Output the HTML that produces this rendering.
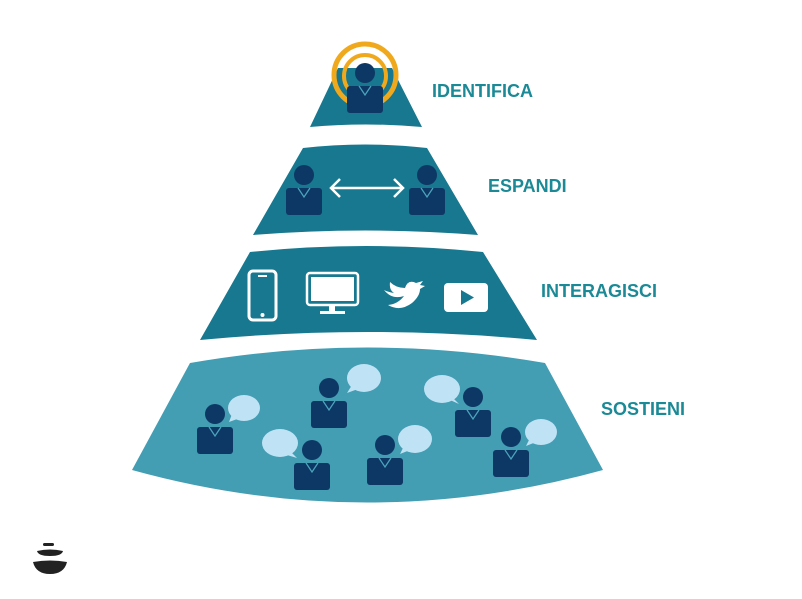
<!DOCTYPE html>
<html><head><meta charset="utf-8"><style>
body{margin:0;background:#fff;}
svg{display:block}
text{font-family:"Liberation Sans",sans-serif;font-weight:bold;fill:#1b8a96;font-size:18px}
</style></head><body>
<svg width="802" height="599" viewBox="0 0 802 599">
<defs>
<g id="p">
<circle cx="0" cy="-13" r="10" fill="#0d3764"/>
<rect x="-18" y="0" width="36" height="27" rx="3" fill="#0d3764"/>
<path d="M-6 0 L0 9 L6 0" fill="none" stroke="#4aa3bd" stroke-width="1.3"/>
</g>
</defs>
<path d="M338 68 L392 68 L422 127 Q366 122 310 127 Z" fill="#17788f"/>
<path d="M303 148 Q365 141 427 148 L478 235 Q365 226 253 235 Z" fill="#17788f"/>
<path d="M250 252 Q366 240 483 252 L537 340 Q368 324 200 340 Z" fill="#17788f"/>
<path d="M190 363 Q367 332 545 363 L603 470 Q367 535 132 470 Z" fill="#439db3"/>
<circle cx="365" cy="75" r="31" fill="none" stroke="#f0a91c" stroke-width="5"/>
<circle cx="365" cy="76" r="21" fill="none" stroke="#f0a91c" stroke-width="4"/>
<use href="#p" x="365" y="86"/>
<use href="#p" x="304" y="188"/>
<use href="#p" x="427" y="188"/>
<path d="M331 188 H403 M340 179 L331 188 L340 197 M394 179 L403 188 L394 197" fill="none" stroke="#fff" stroke-width="2.5"/>
<rect x="249" y="271" width="27" height="49" rx="4" fill="none" stroke="#fff" stroke-width="3"/>
<line x1="258" y1="276" x2="267" y2="276" stroke="#fff" stroke-width="2"/>
<circle cx="262.5" cy="315" r="2" fill="#fff"/>
<rect x="307" y="273" width="51" height="32" rx="3" fill="none" stroke="#fff" stroke-width="2.5"/>
<rect x="311" y="277" width="43" height="24" fill="#fff"/>
<rect x="329" y="305" width="6" height="7" fill="#fff"/>
<rect x="320" y="311" width="25" height="3" fill="#fff"/>
<path d="M384 290 Q392 300 404 296 Q398 304 388 305 Q400 312 412 303 Q420 296 420 289 L425 286 L420 285 L423 281 L416 283 Q408 279 405 288 Q396 288 390 282 Q389 290 394 293 Q388 292 384 290 Z" fill="#fff"/>
<rect x="444" y="283" width="44" height="29" rx="4" fill="#fff"/>
<path d="M461 290 L461 305 L474 297.5 Z" fill="#17788f"/>
<g fill="#bfe3f4">
<ellipse cx="244" cy="408" rx="16" ry="13"/><path d="M232 414 L229 422 L240 418Z"/>
<ellipse cx="364" cy="378" rx="17" ry="14"/><path d="M352 385 L347 393 L358 389Z"/>
<ellipse cx="442" cy="389" rx="18" ry="14"/><path d="M452 397 L459 404 L450 400Z"/>
<ellipse cx="280" cy="443" rx="18" ry="14"/><path d="M290 451 L297 458 L287 455Z"/>
<ellipse cx="415" cy="439" rx="17" ry="14"/><path d="M404 446 L400 454 L410 450Z"/>
<ellipse cx="541" cy="432" rx="16" ry="13"/><path d="M530 438 L526 446 L536 442Z"/>
</g>
<use href="#p" x="215" y="427"/>
<use href="#p" x="329" y="401"/>
<use href="#p" x="312" y="463"/>
<use href="#p" x="385" y="458"/>
<use href="#p" x="473" y="410"/>
<use href="#p" x="511" y="450"/>
<text x="432" y="97">IDENTIFICA</text>
<text x="488" y="192">ESPANDI</text>
<text x="541" y="297">INTERAGISCI</text>
<text x="601" y="415">SOSTIENI</text>
<rect x="43" y="543" width="11" height="3" rx="1.5" fill="#222"/>
<path d="M37 551 Q50 548 63 551 Q62 556 50 556 Q38 556 37 551Z" fill="#222"/>
<path d="M33 562 Q50 559 67 562 Q64 574 50 574 Q36 574 33 562Z" fill="#222"/>
</svg>
</body></html>
